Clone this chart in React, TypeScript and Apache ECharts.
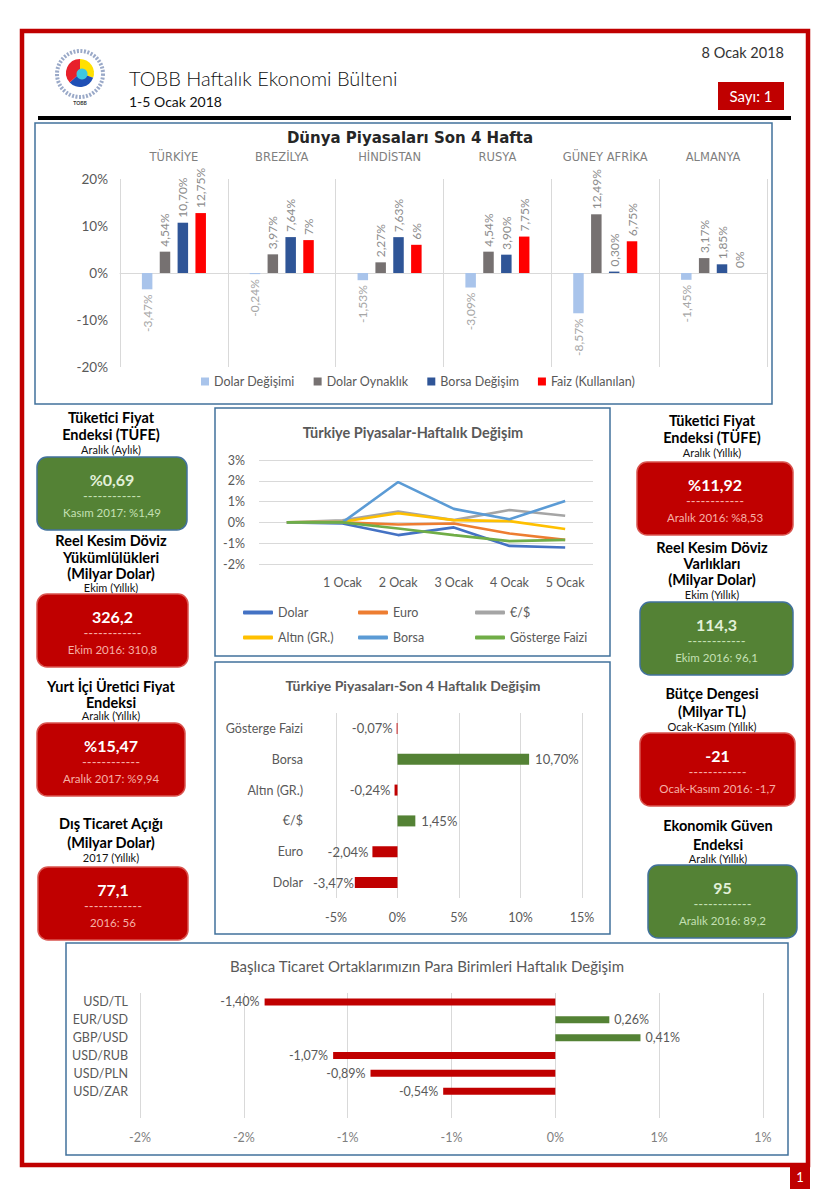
import React, { useEffect, useRef } from 'react';
import * as echarts from 'echarts';

// ---------- DATA ----------
const countries = ['TÜRKİYE', 'BREZİLYA', 'HİNDİSTAN', 'RUSYA', 'GÜNEY AFRİKA', 'ALMANYA'];
const worldSeriesNames = ['Dolar Değişimi', 'Dolar Oynaklık', 'Borsa Değişim', 'Faiz (Kullanılan)'];
const dolarDegisimi = [-3.47, -0.24, -1.53, -3.09, -8.57, -1.45];
const dolarOynaklik = [4.54, 3.97, 2.27, 4.54, 12.49, 3.17];
const borsaDegisim = [10.7, 7.64, 7.63, 3.9, 0.3, 1.85];
const faizKullanilan = [12.75, 7, 6, 7.75, 6.75, 0];

const days = ['', '1 Ocak', '2 Ocak', '3 Ocak', '4 Ocak', '5 Ocak'];
const lineNames = ['Dolar', 'Euro', '€/$', 'Altın (GR.)', 'Borsa', 'Gösterge Faizi'];
const dolarDaily = [0, -0.05, -0.61, -0.24, -1.13, -1.21];
const euroDaily = [0, 0, -0.1, -0.05, -0.53, -0.84];
const euroDolarDaily = [0, 0.1, 0.52, 0.11, 0.6, 0.32];
const altinDaily = [0, 0.03, 0.44, 0.11, 0.06, -0.32];
const borsaDaily = [0, 0, 1.94, 0.65, 0.15, 1.03];
const gostergeDaily = [0, 0, -0.29, -0.61, -0.9, -0.84];

const marketCats = ['Dolar', 'Euro', '€/$', 'Altın (GR.)', 'Borsa', 'Gösterge Faizi'];
const market4w = [-3.47, -2.04, 1.45, -0.24, 10.7, -0.07];

const currencyPairs = ['', 'USD/ZAR', 'USD/PLN', 'USD/RUB', 'GBP/USD', 'EUR/USD', 'USD/TL'];
const currencyWeekly: (number | null)[] = [null, -0.54, -0.89, -1.07, 0.41, 0.26, -1.4];

const kpiTitles = [
  ['Tüketici Fiyat', 'Endeksi (TÜFE)'],
  ['Reel Kesim Döviz', 'Yükümlülükleri', '(Milyar Dolar)'],
  ['Yurt İçi Üretici Fiyat', 'Endeksi'],
  ['Dış Ticaret Açığı', '(Milyar Dolar)'],
  ['Tüketici Fiyat', 'Endeksi (TÜFE)'],
  ['Reel Kesim Döviz', 'Varlıkları', '(Milyar Dolar)'],
  ['Bütçe Dengesi', '(Milyar TL)'],
  ['Ekonomik Güven', 'Endeksi'],
];
const kpiPeriods = ['Aralık (Aylık)', 'Ekim (Yıllık)', 'Aralık (Yıllık)', '2017 (Yıllık)', 'Aralık (Yıllık)', 'Ekim (Yıllık)', 'Ocak-Kasım (Yıllık)', 'Aralık (Yıllık)'];
const kpiValues = ['%0,69', '326,2', '%15,47', '77,1', '%11,92', '114,3', '-21', '95'];
const kpiPrevious = ['Kasım 2017: %1,49', 'Ekim 2016: 310,8', 'Aralık 2017: %9,94', '2016: 56', 'Aralık 2016: %8,53', 'Ekim 2016: 96,1', 'Ocak-Kasım 2016: -1,7', 'Aralık 2016: 89,2'];
const kpiPositive = [true, false, false, false, false, true, false, true];

// ---------- LAYOUT / STYLE ----------
const FONT = 'Lato, "Open Sans", sans-serif';
const RED = '#C00000';
const GREEN = '#548235';
const GREY_TXT = '#595959';
const GRID_LINE = '#d9d9d9';
const BOX_BORDER = '#41719C';

const kpiLayout = [
  { cx: 111, ys: [417, 434], capY: 449, x: 37, y: 457, w: 150 },
  { cx: 111, ys: [540, 557, 573], capY: 587, x: 37, y: 594, w: 151 },
  { cx: 111, ys: [686, 702], capY: 715, x: 37, y: 723, w: 148 },
  { cx: 111, ys: [823, 842], capY: 857, x: 38, y: 867, w: 150 },
  { cx: 712, ys: [420, 437], capY: 452, x: 637, y: 462, w: 156 },
  { cx: 712, ys: [547, 563, 579], capY: 594, x: 640, y: 602, w: 153 },
  { cx: 712, ys: [693, 711], capY: 726, x: 640, y: 733, w: 155 },
  { cx: 718, ys: [825, 844], capY: 858, x: 648, y: 865, w: 149 },
];

const pct2 = (v: number) => `${v.toFixed(2).replace('.', ',')}%`;
const pctSmart = (v: number) => (Number.isInteger(v) ? `${v}%` : pct2(v));
const pctRound = (v: number) => {
  const r = Math.sign(v) * Math.round(Math.abs(v));
  return `${r === 0 ? 0 : r}%`;
};

const txt = (text: string, x: number, y: number, font: string, fill: string, align = 'center') => ({
  type: 'text',
  x,
  y,
  style: { text, font, fill, textAlign: align, textVerticalAlign: 'middle' },
});

function buildGraphics() {
  const g: any[] = [];
  // outer red frame
  g.push({ type: 'rect', shape: { x: 22, y: 31, width: 786, height: 1134 }, style: { fill: 'none', stroke: RED, lineWidth: 4.5 } });
  g.push({ type: 'rect', shape: { x: 790, y: 1165, width: 20, height: 24 }, style: { fill: RED } });
  g.push(txt('1', 800, 1177, '13px ' + FONT, '#fff'));
  // logo
  g.push({ type: 'circle', shape: { cx: 80, cy: 74, r: 23 }, style: { fill: 'none', stroke: '#9aa9c8', lineWidth: 4, lineDash: [2, 1.5] } });
  g.push({ type: 'sector', shape: { cx: 80, cy: 73, r: 14, r0: 0, startAngle: -Math.PI / 2, endAngle: 0.35 }, style: { fill: '#FFE000' } });
  g.push({ type: 'sector', shape: { cx: 80, cy: 73, r: 14, r0: 0, startAngle: 0.35, endAngle: 2.4 }, style: { fill: '#1F4FB5' } });
  g.push({ type: 'sector', shape: { cx: 80, cy: 73, r: 14, r0: 0, startAngle: 2.4, endAngle: Math.PI * 1.5 }, style: { fill: '#E8202A' } });
  g.push({ type: 'circle', shape: { cx: 82, cy: 74, r: 5.5 }, style: { fill: '#3EC7E0' } });
  g.push(txt('TOBB', 80, 103, 'bold 5px ' + FONT, '#333'));
  // header
  g.push(txt('TOBB Haftalık Ekonomi Bülteni', 129, 78, '300 20px ' + FONT, '#111', 'left'));
  g.push(txt('1-5 Ocak 2018', 129, 101, '14px ' + FONT, '#111', 'left'));
  g.push(txt('8 Ocak 2018', 784, 52, '14.5px ' + FONT, '#333', 'right'));
  g.push({ type: 'rect', shape: { x: 718, y: 82, width: 66, height: 28 }, style: { fill: RED } });
  g.push(txt('Sayı: 1', 751, 96, '15px ' + FONT, '#fff'));
  g.push({ type: 'rect', shape: { x: 38, y: 116, width: 753, height: 4 }, style: { fill: '#000' } });
  // chart boxes
  const boxes = [
    [35, 123, 737, 281],
    [215, 408, 395, 248],
    [215, 662, 395, 272],
    [66, 943, 722, 212],
  ];
  boxes.forEach(([x, y, w, h]) =>
    g.push({ type: 'rect', shape: { x, y, width: w, height: h }, style: { fill: 'none', stroke: BOX_BORDER, lineWidth: 1.5 } })
  );
  // chart titles
  g.push(txt('Dünya Piyasaları Son 4 Hafta', 410, 138, 'bold 15px "DejaVu Sans"', '#262626'));
  g.push(txt('Türkiye Piyasalar-Haftalık Değişim', 413, 432, 'bold 14.5px ' + FONT, GREY_TXT));
  g.push(txt('Türkiye Piyasaları-Son 4 Haftalık Değişim', 413, 685, 'bold 14px ' + FONT, GREY_TXT));
  g.push(txt('Başlıca Ticaret Ortaklarımızın Para Birimleri Haftalık Değişim', 427, 966, '15px ' + FONT, GREY_TXT));
  // KPI boxes
  kpiTitles.forEach((lines, i) => {
    const L = kpiLayout[i];
    const pos = kpiPositive[i];
    lines.forEach((ln, j) => g.push(txt(ln, L.cx, L.ys[j], 'bold 14.5px ' + FONT, '#000')));
    g.push(txt(kpiPeriods[i], L.cx, L.capY, '11px ' + FONT, '#111'));
    g.push({
      type: 'rect',
      shape: { x: L.x, y: L.y, width: L.w, height: 73, r: 10 },
      style: { fill: pos ? GREEN : RED, stroke: pos ? BOX_BORDER : '#d9544f', lineWidth: 1.5 },
    });
    const bx = L.x + L.w / 2;
    g.push(txt(kpiValues[i], bx, L.y + 22, 'bold 16px ' + FONT, pos ? '#e2f0d9' : '#ffffff'));
    g.push(txt('------------', bx, L.y + 39, '13px ' + FONT, pos ? '#c5e0b4' : '#f6b0a6'));
    g.push(txt(kpiPrevious[i], bx, L.y + 55, '11.5px ' + FONT, pos ? '#c5e0b4' : '#f6b0a6'));
  });
  return g;
}

function buildOption() {
  const worldColors = ['#A9C4EB', '#767171', '#2F5597', '#FF0000'];
  const worldData = [dolarDegisimi, dolarOynaklik, borsaDegisim, faizKullanilan];
  const lineColors = ['#4472C4', '#ED7D31', '#A5A5A5', '#FFC000', '#5B9BD5', '#70AD47'];
  const lineData = [dolarDaily, euroDaily, euroDolarDaily, altinDaily, borsaDaily, gostergeDaily];
  const lineLegendPos = [
    [243, 606],
    [358, 606],
    [475, 606],
    [243, 631],
    [358, 631],
    [475, 631],
  ];

  const axisTxt = { color: GREY_TXT, fontSize: 12.5, fontFamily: FONT };

  const series: any[] = [];
  worldData.forEach((arr, i) => {
    series.push({
      type: 'bar',
      name: worldSeriesNames[i],
      xAxisIndex: 0,
      yAxisIndex: 0,
      barWidth: 10.5,
      barGap: '70%',
      itemStyle: { color: worldColors[i] },
      label: {
        show: true,
        rotate: 90,
        distance: 5,
        verticalAlign: 'middle',
        fontSize: 12,
        fontFamily: FONT,
        color: i === 0 ? '#a6a6a6' : '#8c8c8c',
        formatter: (p: any) => pctSmart(p.value),
      },
      data: arr.map((v) => ({ value: v, label: { position: v < 0 ? 'bottom' : 'top', align: v < 0 ? 'right' : 'left' } })),
    });
  });
  lineData.forEach((arr, i) => {
    series.push({
      type: 'line',
      name: lineNames[i],
      xAxisIndex: 2,
      yAxisIndex: 1,
      showSymbol: false,
      lineStyle: { width: 2.6, color: lineColors[i] },
      itemStyle: { color: lineColors[i] },
      data: arr,
    });
  });
  series.push({
    type: 'bar',
    name: 'Son 4 Hafta',
    xAxisIndex: 3,
    yAxisIndex: 2,
    barWidth: 11,
    label: { show: true, distance: 6, fontSize: 13, fontFamily: FONT, color: GREY_TXT, formatter: (p: any) => pct2(p.value) },
    data: market4w.map((v) => ({
      value: v,
      itemStyle: { color: v >= 0 ? GREEN : RED },
      label: { position: v >= 0 ? 'right' : 'left', distance: v >= 0 ? 6 : v < -3 ? 1 : 4 },
    })),
  });
  series.push({
    type: 'bar',
    name: 'Para Birimleri',
    xAxisIndex: 4,
    yAxisIndex: 3,
    barWidth: 7,
    label: {
      show: true,
      distance: 5,
      fontSize: 12.5,
      fontFamily: FONT,
      color: GREY_TXT,
      formatter: (p: any) => (p.value == null ? '' : pct2(p.value)),
    },
    data: currencyWeekly.map((v) =>
      v == null
        ? { value: null }
        : { value: v, itemStyle: { color: v >= 0 ? GREEN : RED }, label: { position: v >= 0 ? 'right' : 'left' } }
    ),
  });

  return {
    animation: false,
    backgroundColor: '#ffffff',
    textStyle: { fontFamily: FONT },
    graphic: { elements: buildGraphics() },
    legend: [
      {
        data: worldSeriesNames,
        left: 201,
        top: 375,
        padding: 0,
        icon: 'rect',
        itemWidth: 8,
        itemHeight: 8,
        itemGap: 19,
        selectedMode: false,
        textStyle: { color: GREY_TXT, fontSize: 12.5, fontFamily: FONT },
      },
      ...lineNames.map((n, i) => ({
        data: [n],
        left: lineLegendPos[i][0],
        top: lineLegendPos[i][1],
        padding: 0,
        icon: 'roundRect',
        itemWidth: 30,
        itemHeight: 4,
        selectedMode: false,
        textStyle: { color: GREY_TXT, fontSize: 12.5, fontFamily: FONT },
      })),
    ],
    grid: [
      { left: 120, top: 179, width: 647, height: 188 },
      { left: 259, top: 460, width: 334, height: 104 },
      { left: 336, top: 713, width: 246, height: 185 },
      { left: 140, top: 993, width: 623, height: 125 },
    ],
    xAxis: [
      {
        gridIndex: 0,
        type: 'category',
        data: countries,
        position: 'bottom',
        axisLine: { show: true, onZero: true, lineStyle: { color: GRID_LINE } },
        axisTick: { show: false },
        axisLabel: { show: false },
        splitLine: { show: true, interval: 0, lineStyle: { color: GRID_LINE } },
      },
      {
        gridIndex: 0,
        type: 'category',
        data: countries,
        position: 'top',
        axisLine: { show: false },
        axisTick: { show: false },
        axisLabel: { show: true, interval: 0, margin: 16, color: '#7f7f7f', fontSize: 11.5, fontFamily: '"DejaVu Sans"' },
        splitLine: { show: false },
      },
      {
        gridIndex: 1,
        type: 'category',
        data: days,
        boundaryGap: true,
        axisLine: { show: false },
        axisTick: { show: false },
        axisLabel: { ...axisTxt, interval: 0, margin: 12 },
        splitLine: { show: false },
      },
      {
        gridIndex: 2,
        type: 'value',
        min: -5,
        max: 15,
        interval: 5,
        axisLine: { show: false },
        axisTick: { show: false },
        axisLabel: { ...axisTxt, margin: 13, formatter: (v: number) => `${v}%` },
        splitLine: { show: true, lineStyle: { color: GRID_LINE } },
      },
      {
        gridIndex: 3,
        type: 'value',
        min: -2,
        max: 1,
        interval: 0.5,
        axisLine: { show: false },
        axisTick: { show: false },
        axisLabel: { color: '#7f7f7f', fontSize: 12.5, fontFamily: FONT, margin: 13, formatter: (v: number) => pctRound(v) },
        splitLine: { show: true, lineStyle: { color: GRID_LINE } },
      },
    ],
    yAxis: [
      {
        gridIndex: 0,
        type: 'value',
        min: -20,
        max: 20,
        interval: 10,
        axisLine: { show: false },
        axisTick: { show: false },
        axisLabel: { color: GREY_TXT, fontSize: 13.5, fontFamily: FONT, margin: 12, formatter: (v: number) => `${v}%` },
        splitLine: { show: false },
      },
      {
        gridIndex: 1,
        type: 'value',
        min: -2,
        max: 3,
        interval: 1,
        axisLine: { show: false },
        axisTick: { show: false },
        axisLabel: { ...axisTxt, margin: 14, formatter: (v: number) => `${v}%` },
        splitLine: { show: true, lineStyle: { color: GRID_LINE } },
      },
      {
        gridIndex: 2,
        type: 'category',
        data: marketCats,
        axisLine: { show: false },
        axisTick: { show: false },
        axisLabel: { ...axisTxt, margin: 33, interval: 0 },
        splitLine: { show: false },
      },
      {
        gridIndex: 3,
        type: 'category',
        data: currencyPairs,
        axisLine: { show: false },
        axisTick: { show: false },
        axisLabel: { ...axisTxt, margin: 12, interval: 0 },
        splitLine: { show: false },
      },
    ],
    series,
  };
}

export default function App() {
  const ref = useRef<HTMLDivElement>(null);
  useEffect(() => {
    if (!ref.current) return;
    const chart = echarts.init(ref.current, null, { renderer: 'svg' });
    chart.setOption(buildOption() as any);
    return () => chart.dispose();
  }, []);
  return (
    <div
      ref={ref}
      style={{ position: 'absolute', left: 0, top: 0, width: 831, height: 1200, background: '#ffffff' }}
    />
  );
}
